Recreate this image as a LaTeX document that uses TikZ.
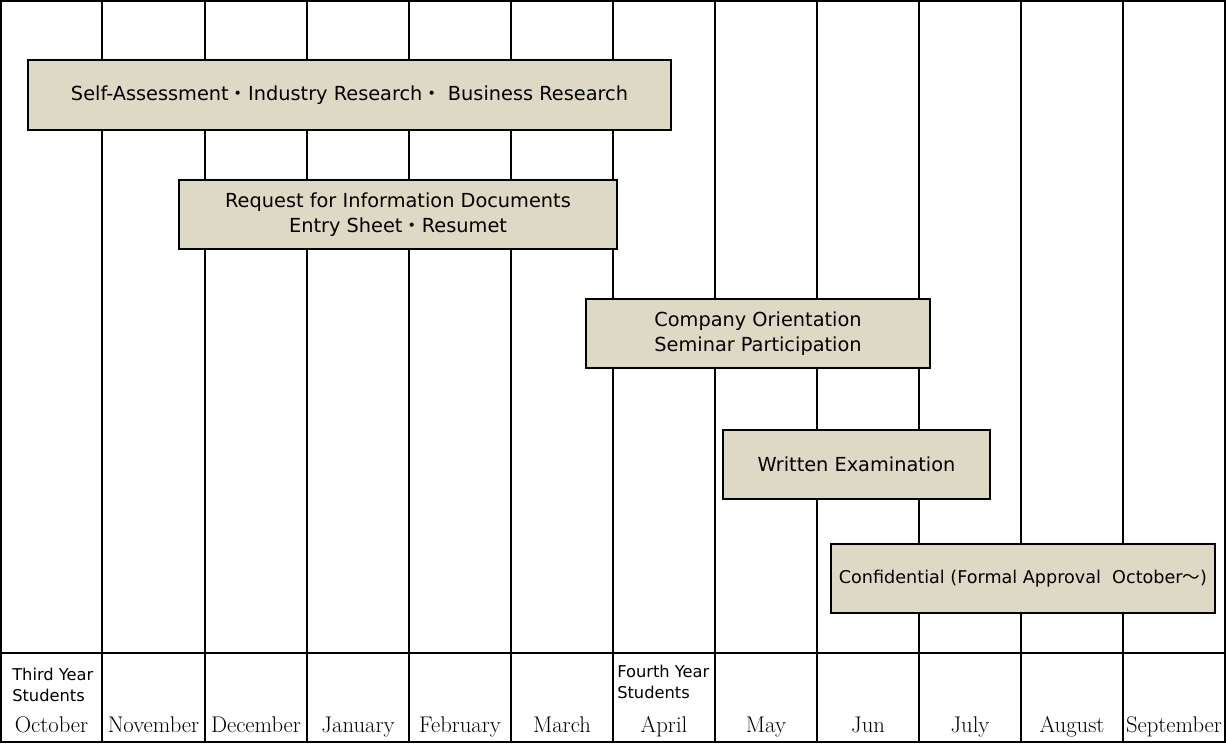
\documentclass[tikz,border=0pt]{standalone}
\usepackage{fontspec}
\newfontfamily\jpfont{Noto Sans CJK JP}
\newfontfamily\gothic{DejaVu Sans}
\newcommand{\nakaguro}{{\jpfont ・}}
\newcommand{\zentilde}{{\jpfont ～}}
\definecolor{boxtan}{HTML}{DDD9C4}
\tikzset{
	frame/.style={line width=1.2pt},
	phase/.style={draw, line width=1.5pt, fill=boxtan, align=center, inner sep=0pt, minimum height=52pt, font=\gothic\fontsize{14.5}{18.75}\selectfont},
	month/.style={anchor=base, inner sep=0pt, font=\fontsize{17}{18}\selectfont},
	year/.style={anchor=base west, align=left, inner sep=0pt, font=\gothic\fontsize{12.2}{15.75}\selectfont}
}

\begin{document}
\begin{tikzpicture}[x=0.75pt, y=-0.75pt]
			\useasboundingbox (0, 0) rectangle (1226, 752);

			% grid
			\draw[frame] (1, 1) rectangle (1225, 742);
			\draw[frame] (1, 653) -- (1225, 653);
			\draw[frame] (102, 1) -- (102, 742);
			\draw[frame] (205, 1) -- (205, 742);
			\draw[frame] (307, 1) -- (307, 742);
			\draw[frame] (409, 1) -- (409, 742);
			\draw[frame] (511, 1) -- (511, 742);
			\draw[frame] (613, 1) -- (613, 742);
			\draw[frame] (715, 1) -- (715, 742);
			\draw[frame] (817, 1) -- (817, 742);
			\draw[frame] (919, 1) -- (919, 742);
			\draw[frame] (1021, 1) -- (1021, 742);
			\draw[frame] (1123, 1) -- (1123, 742);

			% phases
			\draw (349.5, 95) 	node[phase, minimum width=482pt] 	(research) 	{Self-Assessment\nakaguro Industry Research\nakaguro\ Business Research};
			\draw (398, 214.5) 	node[phase, minimum width=328.5pt] 	(entry) 	{Request for Information Documents\\Entry Sheet\nakaguro Resumet};
			\draw (758, 333.5) 	node[phase, minimum width=258pt] 	(seminar) 	{Company Orientation\\Seminar Participation};
			\draw (856.5, 464.5) 	node[phase, minimum width=200pt] 	(exam) 		{Written Examination};
			\draw (1023, 578.5) 	node[phase, minimum width=288pt, font=\gothic\fontsize{13.2}{18.75}\selectfont] 	(offer) 	{Confidential (Formal Approval\ \ October\zentilde)};

			% years
			\draw (12, 701) 	node[year] 	(third) 	{Third Year\\Students};
			\draw (617, 698) 	node[year] 	(fourth) 	{Fourth Year\\Students};

			% months
			\draw (51.5, 732) 	node[month] 	(oct) 	{October};
			\draw (153.5, 732) 	node[month] 	(nov) 	{November};
			\draw (256, 732) 	node[month] 	(dec) 	{December};
			\draw (358, 732) 	node[month] 	(jan) 	{January};
			\draw (460, 732) 	node[month] 	(feb) 	{February};
			\draw (562, 732) 	node[month] 	(mar) 	{March};
			\draw (664, 732) 	node[month] 	(apr) 	{April};
			\draw (766, 732) 	node[month] 	(may) 	{May};
			\draw (868, 732) 	node[month] 	(jun) 	{Jun};
			\draw (970, 732) 	node[month] 	(jul) 	{July};
			\draw (1072, 732) 	node[month] 	(aug) 	{August};
			\draw (1174, 732) 	node[month] 	(sep) 	{September};
		\end{tikzpicture}
\end{document}
